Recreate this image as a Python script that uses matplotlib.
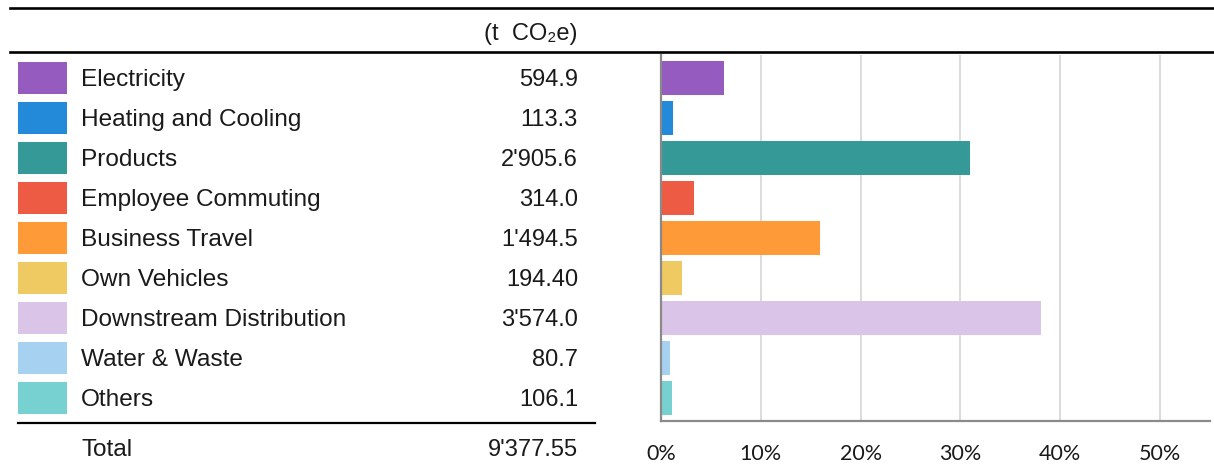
import matplotlib
matplotlib.use("Agg")
import matplotlib.pyplot as plt
from matplotlib.lines import Line2D

# Emission sources and their footprint (t CO2e)
categories = [
    "Electricity",
    "Heating and Cooling",
    "Products",
    "Employee Commuting",
    "Business Travel",
    "Own Vehicles",
    "Downstream Distribution",
    "Water & Waste",
    "Others",
]
emissions = [594.9, 113.3, 2905.6, 314.0, 1494.5, 194.40, 3574.0, 80.7, 106.1]
decimals = [1, 1, 1, 1, 1, 2, 1, 1, 1]
total = 9377.55
total_decimals = 2
colors = [
    "#955bbf", "#238ad9", "#359a97", "#ee5b44", "#ff9a38",
    "#efc961", "#dac5e8", "#a7d1f0", "#77d1d1",
]
x_ticks = [0, 10, 20, 30, 40, 50]
unit_label = "(t  CO₂e)"

TEXT_FONT = ["Liberation Sans", "DejaVu Sans"]
TICK_FONT = ["Lato", "DejaVu Sans"]
TEXT_COLOR = "#1a1a1a"


def swiss(v, d):
    return f"{v:,.{d}f}".replace(",", "'")


W, H = 1214, 468
fig = plt.figure(figsize=(W / 100, H / 100), dpi=100)


def fx(px):
    return px / W


def fy(py):
    return 1 - py / H


axes_top, axes_bottom = 55, 421
row_limits = (8.575, -0.575)
n = len(categories)
rows = list(range(n))

# Bar chart of each source's share of the total
ax = fig.add_axes([fx(661), fy(axes_bottom), fx(1210) - fx(661),
                   fy(axes_top) - fy(axes_bottom)])
share = [v / total * 100 for v in emissions]
ax.barh(rows, share, height=0.85, color=colors, zorder=3)
ax.set_xlim(0, 55)
ax.set_ylim(row_limits)
ax.set_xticks(x_ticks)
ax.set_xticklabels([f"{t}%" for t in x_ticks])
ax.set_yticks([])
ax.grid(axis="x", color="#d9d9d9", lw=1.3, zorder=0)
for side in ("top", "right"):
    ax.spines[side].set_visible(False)
for side in ("left", "bottom"):
    ax.spines[side].set_color("#8a8a8a")
    ax.spines[side].set_linewidth(1.6)
    ax.spines[side].set_zorder(4)
ax.tick_params(axis="x", length=0, pad=16.5, labelsize=15.5, labelcolor=TEXT_COLOR)
for lab in ax.get_xticklabels():
    lab.set_family(TICK_FONT)

# Legend table: swatch, name and value per source
tab = fig.add_axes([0, fy(axes_bottom), fx(620), fy(axes_top) - fy(axes_bottom)])
tab.set_xlim(0, 620)
tab.set_ylim(row_limits)
tab.axis("off")
tab.barh(rows, [49] * n, left=18, height=0.78, color=colors)

base = 0.21
txt = dict(family=TEXT_FONT, color=TEXT_COLOR, va="baseline", clip_on=False)
for i, (name, v, d) in enumerate(zip(categories, emissions, decimals)):
    tab.text(81, i + base, name, ha="left", fontsize=17.6, **txt)
    tab.text(578, i + base, swiss(v, d), ha="right", fontsize=17, **txt)

tab.text(578, -0.94, unit_label, ha="right", fontsize=17, **txt)
tab.text(81, 9.44, "Total", ha="left", fontsize=17.6, **txt)
tab.text(578, 9.44, swiss(total, total_decimals), ha="right", fontsize=17, **txt)

# Header and total rules
for py in (7.5, 52):
    fig.add_artist(Line2D([fx(10), 1.0], [fy(py), fy(py)], color="black", lw=1.9))
fig.add_artist(Line2D([fx(18), fx(595)], [fy(423), fy(423)], color="black", lw=1.6))

fig.savefig("out.png", dpi=100, facecolor="white")
